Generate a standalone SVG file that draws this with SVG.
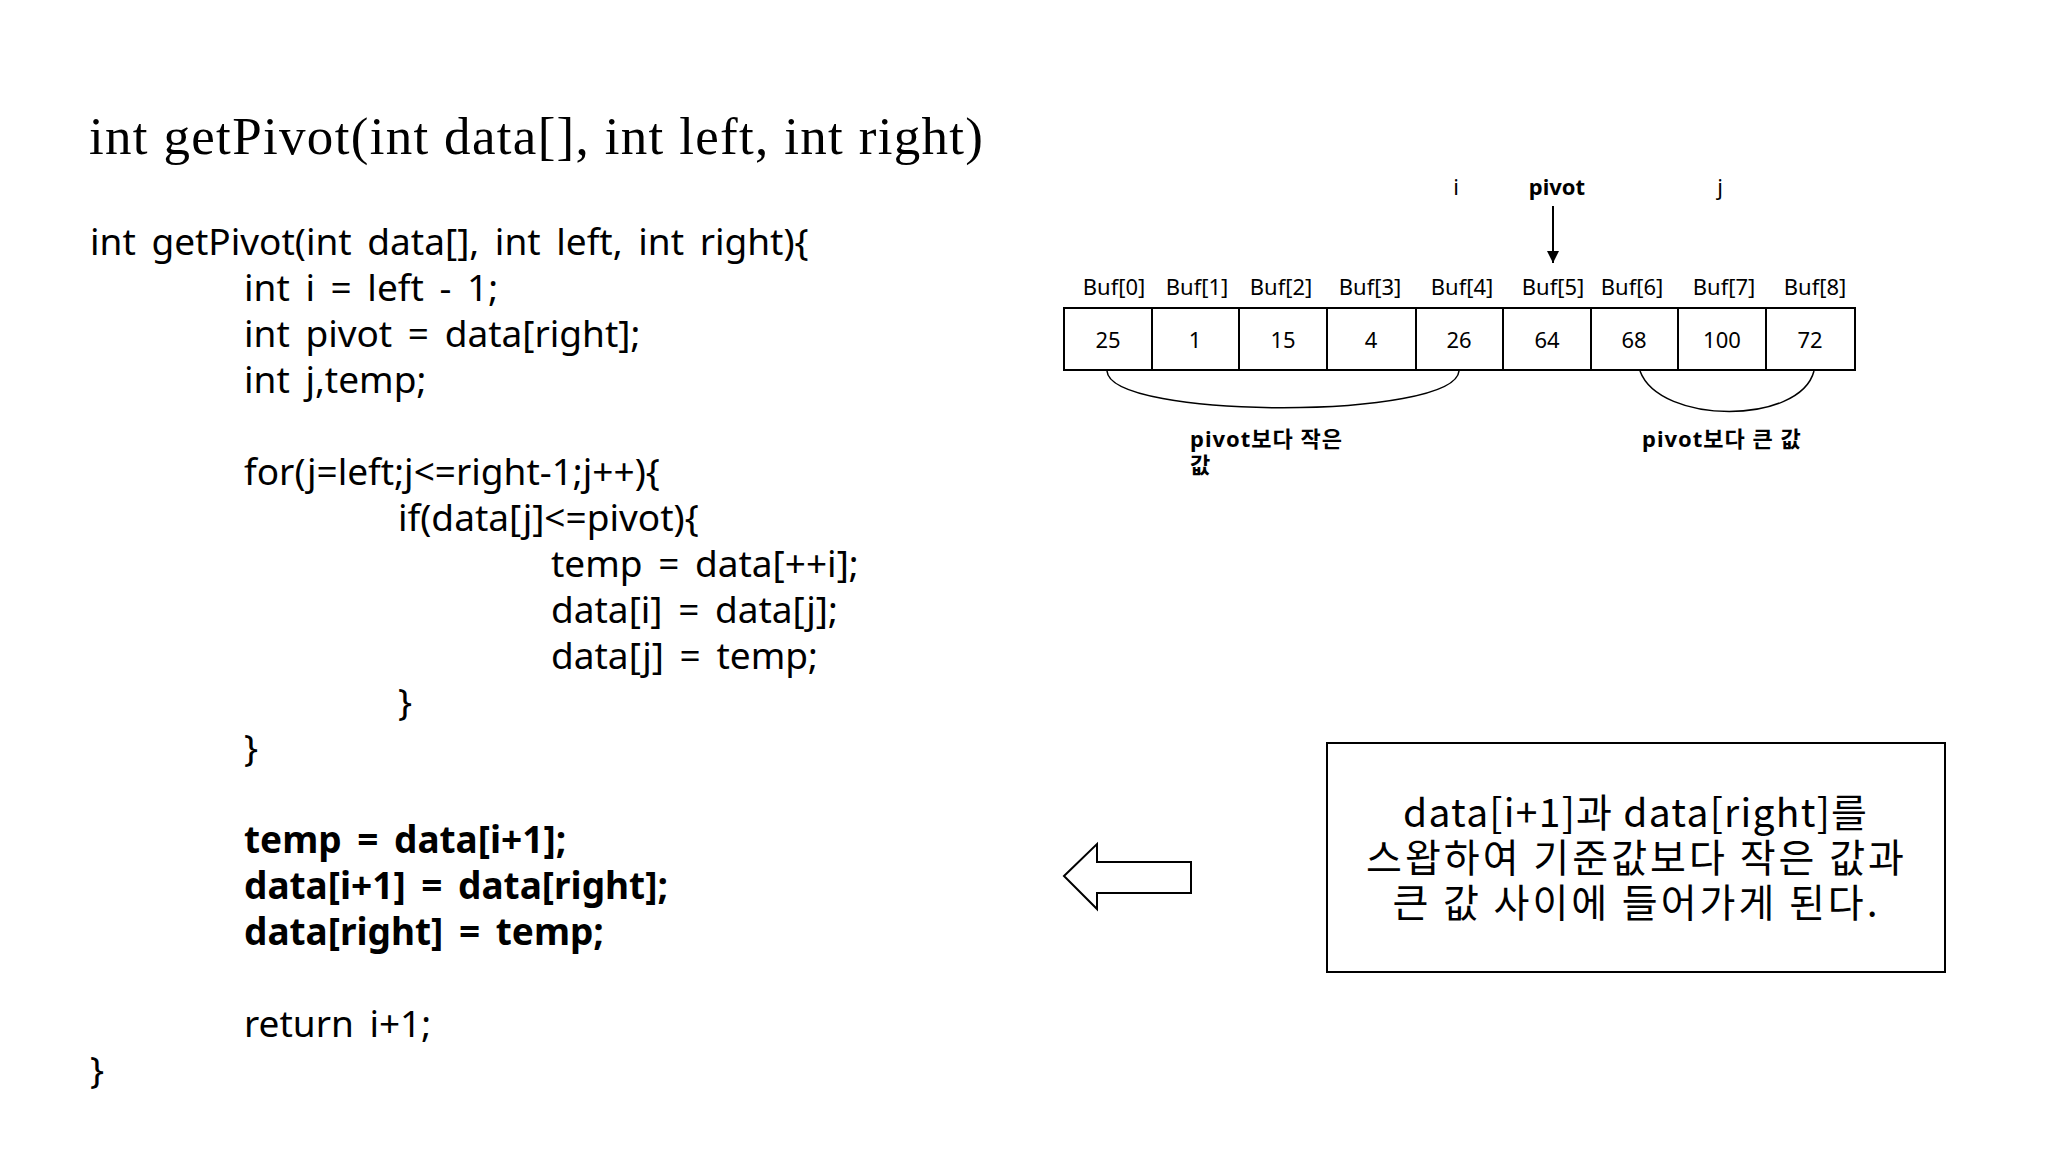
<svg xmlns="http://www.w3.org/2000/svg" width="2048" height="1152" viewBox="0 0 2048 1152">
<style>
.code{font-family:"Noto Sans","Open Sans","Noto Sans CJK KR",sans-serif;font-size:37px;fill:#000;word-spacing:6px}
.b{font-weight:bold}
.sm{font-family:"Noto Sans","Noto Sans CJK KR",sans-serif;font-size:22px;fill:#000}
.cell{fill:#fff;stroke:#000;stroke-width:2}
.arc{fill:none;stroke:#000;stroke-width:1.5}
</style>
<defs><marker id="ah" markerWidth="12" markerHeight="12" refX="12" refY="6" orient="auto" markerUnits="userSpaceOnUse"><path d="M0,0 L12,6 L0,12 z" fill="#000"/></marker></defs>
<rect width="2048" height="1152" fill="#fff"/>
<text x="89" y="154" font-family="Liberation Serif,serif" font-size="53" textLength="894" lengthAdjust="spacing">int getPivot(int data[], int left, int right)</text>
<g id="code">
<text class="code" x="90" y="255">int getPivot(int data[], int left, int right){</text>
<text class="code" x="244" y="301">int i = left - 1;</text>
<text class="code" x="244" y="347">int pivot = data[right];</text>
<text class="code" x="244" y="393">int j,temp;</text>
<text class="code" x="244" y="485">for(j=left;j&lt;=right-1;j++){</text>
<text class="code" x="398" y="531">if(data[j]&lt;=pivot){</text>
<text class="code" x="551" y="577">temp = data[++i];</text>
<text class="code" x="551" y="623">data[i] = data[j];</text>
<text class="code" x="551" y="669">data[j] = temp;</text>
<text class="code" x="398" y="715">}</text>
<text class="code" x="244" y="761">}</text>
<text class="code b" x="244" y="853">temp = data[i+1];</text>
<text class="code b" x="244" y="899">data[i+1] = data[right];</text>
<text class="code b" x="244" y="945">data[right] = temp;</text>
<text class="code" x="244" y="1037">return i+1;</text>
<text class="code" x="90" y="1083">}</text>
</g>
<g id="array" class="sm" text-anchor="middle">
<rect class="cell" x="1064" y="308" width="88" height="62"/><text x="1108" y="348">25</text><text x="1114" y="295">Buf[0]</text>
<rect class="cell" x="1152" y="308" width="87" height="62"/><text x="1195" y="348">1</text><text x="1197" y="295">Buf[1]</text>
<rect class="cell" x="1239" y="308" width="88" height="62"/><text x="1283" y="348">15</text><text x="1281" y="295">Buf[2]</text>
<rect class="cell" x="1327" y="308" width="89" height="62"/><text x="1371" y="348">4</text><text x="1370" y="295">Buf[3]</text>
<rect class="cell" x="1416" y="308" width="87" height="62"/><text x="1459" y="348">26</text><text x="1462" y="295">Buf[4]</text>
<rect class="cell" x="1503" y="308" width="88" height="62"/><text x="1547" y="348">64</text><text x="1553" y="295">Buf[5]</text>
<rect class="cell" x="1591" y="308" width="87" height="62"/><text x="1634" y="348">68</text><text x="1632" y="295">Buf[6]</text>
<rect class="cell" x="1678" y="308" width="88" height="62"/><text x="1722" y="348">100</text><text x="1724" y="295">Buf[7]</text>
<rect class="cell" x="1766" y="308" width="89" height="62"/><text x="1810" y="348">72</text><text x="1815" y="295">Buf[8]</text>
<text x="1456" y="195">i</text>
<text x="1557" y="195" font-weight="bold">pivot</text>
<text x="1720" y="195">j</text>
</g>
<g id="connectors">
<line x1="1553" y1="206" x2="1553" y2="263" stroke="#000" stroke-width="2" marker-end="url(#ah)"/>
<path class="arc" d="M1107,371 C1110,420 1455,420 1459,371"/>
<path class="arc" d="M1640,371 C1660,425 1800,425 1814,371"/>
</g>
<g id="labels" class="sm" font-weight="bold">
<text x="1190" y="447" letter-spacing="1">pivot보다 작은</text>
<text x="1190" y="473">값</text>
<text x="1642" y="447" letter-spacing="1">pivot보다 큰 값</text>
</g>
<g id="bigarrow"><path d="M1064,876 L1097,844 L1097,862 L1191,862 L1191,893 L1097,893 L1097,909 Z" fill="#fff" stroke="#000" stroke-width="2"/></g>
<g id="note">
<rect x="1327" y="743" width="618" height="229" fill="#fff" stroke="#000" stroke-width="2"/>
<g font-family="Noto Sans CJK KR,sans-serif" font-size="39" text-anchor="middle">
<text x="1635" y="827" textLength="464" lengthAdjust="spacing">data[i+1]과 data[right]를</text>
<text x="1635" y="872" textLength="538" lengthAdjust="spacing">스왑하여 기준값보다 작은 값과</text>
<text x="1635" y="917" textLength="485" lengthAdjust="spacing">큰 값 사이에 들어가게 된다.</text>
</g></g>
</svg>
